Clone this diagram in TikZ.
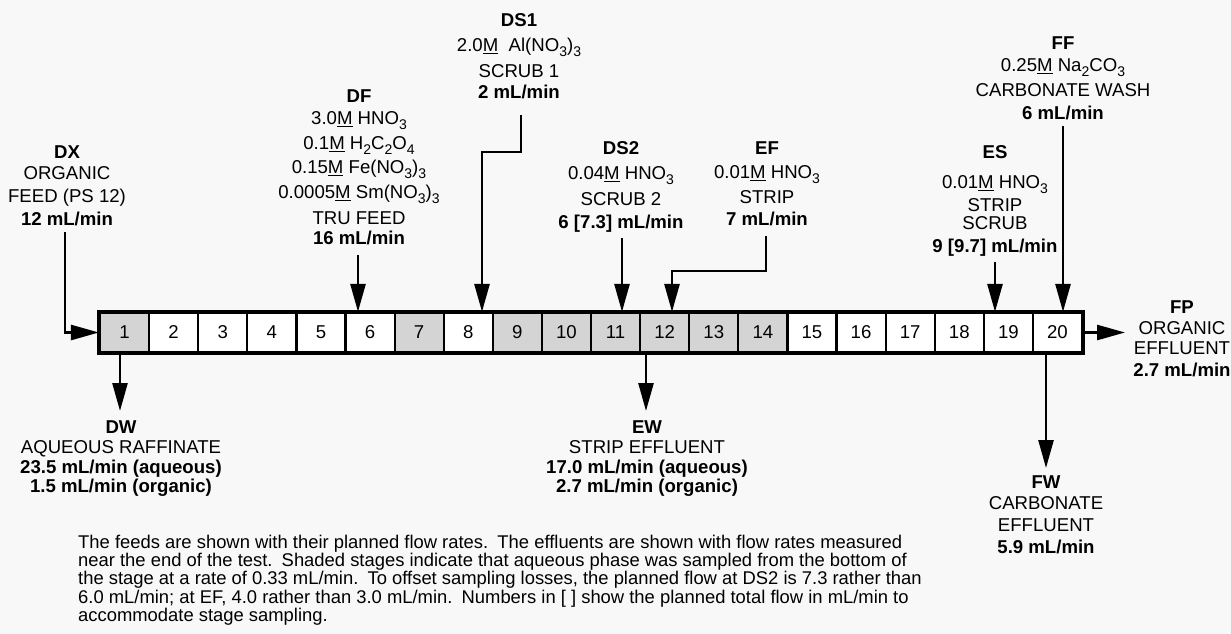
\documentclass[tikz,border=0pt]{standalone}
\usepackage{fontspec}
\setmainfont{Liberation Sans}
\usetikzlibrary{arrows.meta}
\definecolor{paper}{RGB}{248,248,248}
\definecolor{shd}{RGB}{212,212,212}
\newcommand\chs[1]{\raisebox{-5pt}{\fontsize{14}{14}\selectfont #1}}
\newcommand\mol{\underline{M}}
\begin{document}
\begin{tikzpicture}[x=1pt,y=-1pt,
  lbl/.style={anchor=base,inner sep=0pt,font=\fontsize{18.6}{22}\selectfont},
  lblb/.style={anchor=base,inner sep=0pt,font=\fontsize{18.6}{22}\selectfont\bfseries},
  para/.style={anchor=base west,inner sep=0pt,font=\fontsize{18.4}{18}\selectfont},
  stagebox/.style={draw,line width=2.2pt,minimum width=49.1pt,minimum height=39pt,inner sep=0pt,font=\fontsize{18.6}{22}\selectfont},
  arr/.style={line width=2.6pt,-{Triangle[length=28pt,width=15pt]}}
]
\fill[paper] (0,0) rectangle (1231,634);
\useasboundingbox (0,0) rectangle (1231,634);

% stages
\foreach \i/\c in {1/shd,2/white,3/white,4/white,5/white,6/white,7/shd,8/white,9/shd,10/shd,11/shd,12/shd,13/shd,14/shd,15/white,16/white,17/white,18/white,19/white,20/white}
  \node[stagebox,fill=\c] (s\i) at ({100+(\i-0.5)*49.1},332.5) {\i};
\draw[line width=3pt] (s1.north west) rectangle (s20.south east);

% DX
\node[lblb] (dx1) at (67,158.8) {DX};
\node[lbl]  (dx2) at (67,179.8) {ORGANIC};
\node[lbl]  (dx3) at (67,202.8) {FEED (PS 12)};
\node[lblb] (dx4) at (67,225.8) {12 mL/min};
% DF
\node[lblb] (df1) at (359,102.8) {DF};
\node[lbl]  (df2) at (359,124.8) {3.0\mol\ HNO\chs{3}};
\node[lbl]  (df3) at (359,149.8) {0.1\mol\ H\chs{2}C\chs{2}O\chs{4}};
\node[lbl]  (df4) at (359,173.8) {0.15\mol\ Fe(NO\chs{3})\chs{3}};
\node[lbl]  (df5) at (359,198.8) {0.0005\mol\ Sm(NO\chs{3})\chs{3}};
\node[lbl]  (df6) at (359,224.8) {TRU FEED};
\node[lblb] (df7) at (359,244.8) {16 mL/min};
% DS1
\node[lblb] (ds11) at (519,26.8) {DS1};
\node[lbl]  (ds12) at (519,51.8) {2.0\mol\ \ Al(NO\chs{3})\chs{3}};
\node[lbl]  (ds13) at (519,77.8) {SCRUB 1};
\node[lblb] (ds14) at (519,98.8) {2 mL/min};
% DS2
\node[lblb] (ds21) at (621,154.8) {DS2};
\node[lbl]  (ds22) at (621,179.8) {0.04\mol\ HNO\chs{3}};
\node[lbl]  (ds23) at (621,205.8) {SCRUB 2};
\node[lblb] (ds24) at (621,228.8) {6 [7.3] mL/min};
% EF
\node[lblb] (ef1) at (767,154.8) {EF};
\node[lbl]  (ef2) at (767,178.8) {0.01\mol\ HNO\chs{3}};
\node[lbl]  (ef3) at (767,203.8) {STRIP};
\node[lblb] (ef4) at (767,225.8) {7 mL/min};
% ES
\node[lblb] (es1) at (995,158.8) {ES};
\node[lbl]  (es2) at (995,188.8) {0.01\mol\ HNO\chs{3}};
\node[lbl]  (es3) at (995,211.8) {STRIP};
\node[lbl]  (es4) at (995,229.8) {SCRUB};
\node[lblb] (es5) at (995,252.8) {9 [9.7] mL/min};
% FF
\node[lblb] (ff1) at (1063,49.8) {FF};
\node[lbl]  (ff2) at (1063,71.8) {0.25\mol\ Na\chs{2}CO\chs{3}};
\node[lbl]  (ff3) at (1063,96.8) {CARBONATE WASH};
\node[lblb] (ff4) at (1063,119.8) {6 mL/min};
% FP
\node[lblb] (fp1) at (1182,313.8) {FP};
\node[lbl]  (fp2) at (1182,334.8) {ORGANIC};
\node[lbl]  (fp3) at (1182,354.8) {EFFLUENT};
\node[lblb] (fp4) at (1182,376.8) {2.7 mL/min};
% DW
\node[lblb] (dw1) at (121,433.8) {DW};
\node[lbl]  (dw2) at (121,453.8) {AQUEOUS RAFFINATE};
\node[lblb] (dw3) at (121,473.8) {23.5 mL/min (aqueous)};
\node[lblb] (dw4) at (121,492.8) {1.5 mL/min (organic)};
% EW
\node[lblb] (ew1) at (647,433.8) {EW};
\node[lbl]  (ew2) at (647,453.8) {STRIP EFFLUENT};
\node[lblb] (ew3) at (647,473.8) {17.0 mL/min (aqueous)};
\node[lblb] (ew4) at (647,492.8) {2.7 mL/min (organic)};
% FW
\node[lblb] (fw1) at (1046,488.8) {FW};
\node[lbl]  (fw2) at (1046,509.8) {CARBONATE};
\node[lbl]  (fw3) at (1046,531.8) {EFFLUENT};
\node[lblb] (fw4) at (1046,553.8) {5.9 mL/min};

% paragraph
\node[para] (p1) at (78,548) {The feeds are shown with their planned flow rates.\enspace The effluents are shown with flow rates measured};
\node[para] (p2) at (78,566) {near the end of the test.\enspace Shaded stages indicate that aqueous phase was sampled from the bottom of};
\node[para] (p3) at (78,584.5) {the stage at a rate of 0.33 mL/min.\enspace To offset sampling losses, the planned flow at DS2 is 7.3 rather than};
\node[para] (p4) at (78,603) {6.0 mL/min; at EF, 4.0 rather than 3.0 mL/min.\enspace Numbers in [ ] show the planned total flow in mL/min to};
\node[para] (p5) at (78,621) {accommodate stage sampling.};

% feed arrows
\coordinate (dxa) at (65,232);
\draw[arr] (dxa) |- (s1.west);
\coordinate (dfa) at (358,255);
\draw[arr] (dfa) -- (dfa |- s6.north);
\coordinate (ds1a) at (521,115);
\coordinate (ds1b) at (482,152);
\draw[arr] (ds1a) |- (ds1b) -- (ds1b |- s8.north);
\coordinate (ds2a) at (622,238);
\draw[arr] (ds2a) -- (ds2a |- s11.north);
\coordinate (efa) at (766,236);
\coordinate (efb) at (672,271);
\draw[arr] (efa) |- (efb) -- (efb |- s12.north);
\coordinate (esa) at (995,262);
\draw[arr] (esa) -- (esa |- s19.north);
\coordinate (ffa) at (1063,126);
\draw[arr] (ffa) -- (ffa |- s20.north);
% effluent arrows
\coordinate (fpe) at (1125,332.5);
\draw[arr] (s20.east) -- (fpe);
\coordinate (dwe) at (120,411);
\draw[arr] (dwe |- s1.south) -- (dwe);
\coordinate (ewe) at (646,411);
\draw[arr] (ewe |- s12.south) -- (ewe);
\coordinate (fwe) at (1046,468);
\draw[arr] (fwe |- s20.south) -- (fwe);
\end{tikzpicture}
\end{document}
